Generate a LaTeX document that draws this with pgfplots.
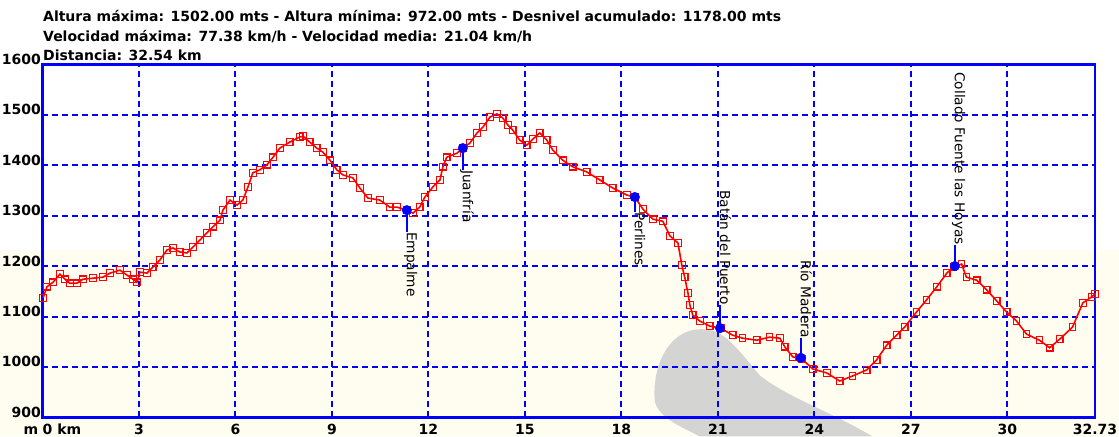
\documentclass[border=0pt]{standalone}
\usepackage{pgfplots}
\pgfplotsset{compat=1.18}
\usepackage{fontspec}
\setmainfont{DejaVu Sans}
\definecolor{cream}{RGB}{255,252,240}
\definecolor{wm}{RGB}{212,212,210}
\begin{document}
\begin{tikzpicture}[x=1pt,y=1pt]
\path[use as bounding box] (-42.5,-19) rectangle (1077,417.5);
\fill[cream] (-42.5,-19) rectangle (1077,167);
\fill[wm] (612.5,17) .. controls (610,50) and (625,85) .. (655,88)
  .. controls (680,90) and (690,75) .. (717.5,42)
  .. controls (745,20) and (790,5) .. (830,-19) -- (657.5,-19)
  .. controls (640,-10) and (615,0) .. cycle;
\begin{axis}[at={(0,0)}, anchor=south west, scale only axis,
  width=1053pt, height=353pt,
  xmin=0, xmax=32.73, ymin=900, ymax=1600,
  axis line style={blue, line width=2.5pt},
  grid=major,
  major grid style={blue, line width=2pt, dash pattern=on 6pt off 4pt},
  major tick length=0pt,
  xtick={0,3,6,9,12,15,18,21,24,27,30,32.73},
  xticklabels={,3,6,9,12,15,18,21,24,27,30,32.73},
  ytick={900,1000,1100,1200,1300,1400,1500,1600},
  yticklabels={900,1000,1100,1200,1300,1400,1500,1600},
  tick label style={font=\fontsize{14}{16}\selectfont\bfseries},
  xticklabel style={anchor=base, yshift=-17pt, inner sep=0pt},
  yticklabel style={anchor=base east, inner sep=0pt, xshift=-1.5pt},
  clip=false,
]
\addplot[red, line width=1.6pt, mark=square, mark size=3.3pt, mark options={solid, line width=1.2pt}] coordinates {
(0.02,1137) (0.14,1159) (0.33,1168) (0.54,1184) (0.70,1174) (0.85,1166)
(1.07,1166) (1.26,1174) (1.57,1176) (1.88,1178) (2.10,1186) (2.41,1192)
(2.63,1182) (2.81,1174) (2.94,1168) (3.03,1188) (3.25,1186) (3.43,1198)
(3.65,1212) (3.87,1232) (4.06,1236) (4.27,1228) (4.49,1226) (4.68,1238)
(4.90,1252) (5.11,1266) (5.30,1278) (5.52,1291) (5.61,1311) (5.83,1331)
(6.05,1321) (6.23,1331) (6.39,1357) (6.54,1385) (6.76,1391) (6.98,1401)
(7.17,1416) (7.38,1434) (7.69,1446) (8.00,1456) (8.10,1458) (8.31,1446)
(8.53,1434) (8.72,1426) (8.94,1410) (9.15,1391) (9.34,1381) (9.65,1375)
(9.87,1355) (10.12,1335) (10.49,1331) (10.80,1317) (11.02,1317) (11.33,1311)
(11.52,1305) (11.73,1317) (11.89,1337) (12.14,1357) (12.36,1371) (12.45,1397)
(12.57,1416) (12.89,1424) (13.07,1434) (13.29,1444) (13.51,1464) (13.70,1476)
(13.92,1496) (14.13,1502) (14.31,1494) (14.47,1480) (14.62,1470) (14.84,1450)
(15.06,1440) (15.25,1452) (15.46,1464) (15.68,1450) (15.87,1430) (16.18,1410)
(16.49,1397) (16.92,1387) (17.33,1371) (17.73,1355) (18.17,1341) (18.42,1337)
(18.67,1313) (18.98,1293) (19.29,1289) (19.51,1260) (19.76,1246) (19.88,1202)
(19.97,1178) (20.07,1147) (20.13,1123) (20.22,1103) (20.44,1091) (20.75,1081)
(21.09,1077) (21.46,1063) (21.77,1057) (22.21,1053) (22.61,1059) (22.93,1057)
(23.08,1040) (23.33,1020) (23.61,1016) (23.95,996) (24.39,988) (24.79,972)
(25.19,982) (25.63,994) (25.94,1014) (26.25,1043) (26.56,1063) (26.81,1079)
(27.18,1109) (27.49,1133) (27.81,1159) (28.12,1186) (28.33,1198) (28.58,1204)
(28.73,1178) (29.05,1172) (29.36,1153) (29.67,1131) (29.98,1109) (30.29,1091)
(30.60,1065) (31.00,1053) (31.32,1038) (31.63,1055) (32.03,1079) (32.35,1127)
(32.63,1139) (32.73,1145)
};
% waypoint connectors
\addplot[blue, line width=2.2pt] coordinates {(11.33,1311) (11.33,1268)};
\addplot[blue, line width=2.2pt] coordinates {(13.07,1434) (13.07,1391)};
\addplot[blue, line width=2.2pt] coordinates {(18.42,1337) (18.42,1307)};
\addplot[blue, line width=2.2pt] coordinates {(21.07,1077) (21.07,1123)};
\addplot[blue, line width=2.2pt] coordinates {(23.58,1018) (23.58,1057)};
\addplot[blue, line width=2.2pt] coordinates {(28.37,1200) (28.37,1242)};
\addplot[only marks, blue, mark=*, mark size=4.8pt] coordinates {
(11.33,1311) (13.07,1434) (18.42,1337) (21.07,1077) (23.58,1018) (28.37,1200)};
\begin{scope}[every node/.style={rotate=-90, inner sep=0pt, font=\fontsize{13.7}{15}\selectfont}]
\node[anchor=base west] at (axis cs:11.33,1268) {Empalme};
\node[anchor=base west] at (axis cs:13.07,1391) {Juanfría};
\node[anchor=base west] at (axis cs:18.42,1307) {Perlines};
\node[anchor=base east] at (axis cs:21.07,1123) {Batán del Puerto};
\node[anchor=base east] at (axis cs:23.58,1057) {Río Madera};
\node[anchor=base east] at (axis cs:28.37,1242) {Collado Fuente las Hoyas};
\end{scope}
\end{axis}
\begin{scope}[every node/.style={inner sep=0pt, font=\fontsize{14}{16}\selectfont\bfseries}]
\node[anchor=base west] at (0.5,396) {Altura máxima: 1502.00 mts - Altura mínima: 972.00 mts - Desnivel acumulado: 1178.00 mts};
\node[anchor=base west] at (0.5,376) {Velocidad máxima: 77.38 km/h - Velocidad media: 21.04 km/h};
\node[anchor=base west] at (0.5,357) {Distancia: 32.54 km};
\end{scope}
\node[anchor=base west, inner sep=0pt, font=\fontsize{14}{16}\selectfont\bfseries] at (0,-17) {0 km};
\node[anchor=base east, inner sep=0pt, font=\fontsize{14}{16}\selectfont\bfseries] at (-4,-17) {m};
\end{tikzpicture}
\end{document}
